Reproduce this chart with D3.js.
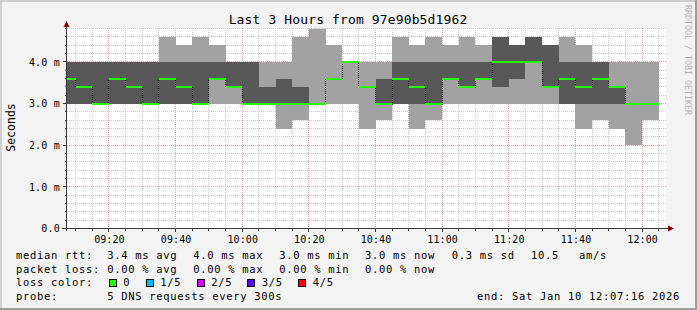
<!DOCTYPE html>
<html>
<head>
<meta charset="utf-8">
<script src="https://cdn.jsdelivr.net/npm/d3@7"></script>
<style>
  body { margin: 0; background: #f3f3f3; }
  text { font-family: "DejaVu Sans Mono", monospace; fill: #000; }
</style>
</head>
<body>
<script>
// smokeping style graph: 5 pings per 5 minute step, sorted low -> high

// end time of each 5 minute step
var times = ["09:10","09:15","09:20","09:25","09:30","09:35","09:40","09:45","09:50","09:55",
  "10:00","10:05","10:10","10:15","10:20","10:25","10:30","10:35","10:40","10:45","10:50","10:55",
  "11:00","11:05","11:10","11:15","11:20","11:25","11:30","11:35","11:40","11:45","11:50","11:55",
  "12:00","12:05"];

// values in ms
var ping1  = [3.0,3.0,3.0,3.0,3.0,3.0,3.0,3.0,3.0,3.0,3.0,3.0,3.0,2.4,2.6,3.0,3.0,3.0,2.4,2.6,3.0,2.4,2.6,3.0,3.0,3.0,3.0,3.0,3.0,3.0,3.0,2.4,2.6,2.4,2.0,2.6];
var ping2  = [3.0,3.0,3.0,3.0,3.0,3.0,3.0,3.0,3.0,3.6,3.4,3.0,3.0,3.0,3.0,3.0,3.6,4.0,3.4,3.0,3.0,3.0,3.0,3.6,3.4,3.6,3.4,3.6,4.0,3.4,3.0,3.0,3.0,3.0,3.0,3.0];
var median = [3.6,3.4,3.0,3.6,3.4,3.0,3.6,3.4,3.0,3.6,3.4,3.0,3.0,3.0,3.0,3.0,3.6,4.0,3.4,3.0,3.6,3.4,3.0,3.6,3.4,3.6,4.0,4.0,4.0,3.4,3.6,3.4,3.6,3.4,3.0,3.0];
var ping4  = [4.0,4.0,4.0,4.0,4.0,4.0,4.0,4.0,4.0,4.0,4.0,4.0,3.4,3.6,3.4,3.0,3.6,4.0,3.4,3.6,4.0,4.0,4.0,4.0,4.0,4.0,4.6,4.4,4.6,4.4,4.0,4.0,4.0,3.4,3.0,3.0];
var ping5  = [4.0,4.0,4.0,4.0,4.0,4.0,4.6,4.4,4.6,4.4,4.0,4.0,4.0,4.0,4.6,4.8,4.4,4.0,4.0,4.0,4.6,4.4,4.6,4.4,4.6,4.4,4.6,4.4,4.6,4.4,4.6,4.4,4.0,4.0,4.0,4.0];

var yTicks = [0, 1, 2, 3, 4];
var title = "Last 3 Hours from 97e90b5d1962";

var rowLabels = ["median rtt:", "packet loss:", "loss color:", "probe:"];
var rttStats  = ["3.4 ms avg", "4.0 ms max", "3.0 ms min", "3.0 ms now", "0.3 ms sd", "10.5", "am/s"];
var lossStats = ["0.00 % avg", "0.00 % max", "0.00 % min", "0.00 % now"];
var lossNames  = ["0", "1/5", "2/5", "3/5", "4/5"];
var lossColors = ["#26ff00", "#00b8ff", "#dd00ff", "#5e00ff", "#ff0000"];
var probeText = "5 DNS requests every 300s";
var endText = "end: Sat Jan 10 12:07:16 2026";

var W = 697, H = 310;
var day = t => new Date(2026, 0, 10, +t.slice(0, 2), +t.slice(3, 5), +(t.slice(6) || 0));
var snap = v => Math.floor(v) + 0.5;

var x = d3.scaleTime().domain([day("09:07:16"), day("12:07:16")]).range([66.5, 666.3]);
var y = d3.scaleLinear().domain([0, 4.8]).range([228.5, 28.5]);

var steps = times.map((t, i) => {
  var end = day(t);
  var start = d3.max([d3.timeMinute.offset(end, -5), x.domain()[0]]);
  return { start: start, end: end, p1: ping1[i], p2: ping2[i], med: median[i], p4: ping4[i], p5: ping5[i] };
});

var svg = d3.select("body").append("svg").attr("width", W).attr("height", H);

// canvas + shade frame
svg.append("rect").attr("width", W).attr("height", H).attr("fill", "#f3f3f3");
svg.append("path").attr("d", `M1,${H} V1 H${W}`).attr("stroke", "#cfcfcf").attr("stroke-width", 2).attr("fill", "none");
svg.append("path").attr("d", `M0,${H - 1} H${W - 1} V0`).attr("stroke", "#9e9e9e").attr("stroke-width", 2).attr("fill", "none");

svg.append("rect").attr("x", 67).attr("y", 28).attr("width", 599).attr("height", 200).attr("fill", "#fff");

// grid
var grid = svg.append("g").attr("shape-rendering", "crispEdges").attr("stroke-dasharray", "1,1");
var minorY = d3.range(0, 4.81, 0.2).filter(v => Math.abs(v - Math.round(v)) > 1e-6);
grid.selectAll(".hmin").data(minorY).enter().append("line")
  .attr("x1", 67).attr("x2", 666).attr("y1", d => snap(y(d))).attr("y2", d => snap(y(d)))
  .attr("stroke", "#cacaca");
var minorX = x.ticks(d3.timeMinute.every(5)).filter(d => d.getMinutes() % 20 != 0);
grid.selectAll(".vmin").data(minorX).enter().append("line")
  .attr("x1", d => snap(x(d))).attr("x2", d => snap(x(d))).attr("y1", 28).attr("y2", 228)
  .attr("stroke", "#cacaca");
grid.selectAll(".hmaj").data(yTicks.slice(1)).enter().append("line")
  .attr("x1", 67).attr("x2", 666).attr("y1", d => snap(y(d))).attr("y2", d => snap(y(d)))
  .attr("stroke", "#eea0a0");
var majorX = x.ticks(d3.timeMinute.every(20));
grid.selectAll(".vmaj").data(majorX).enter().append("line")
  .attr("x1", d => snap(x(d))).attr("x2", d => snap(x(d))).attr("y1", 28).attr("y2", 228)
  .attr("stroke", "#eea0a0");

// smoke
var smoke = svg.append("g").attr("shape-rendering", "crispEdges");
smoke.selectAll(".outer").data(steps).enter().append("rect")
  .attr("x", d => x(d.start)).attr("width", d => x(d.end) - x(d.start))
  .attr("y", d => y(d.p5)).attr("height", d => y(d.p1) - y(d.p5))
  .attr("fill", "#a2a2a2");
smoke.selectAll(".inner").data(steps).enter().append("rect")
  .attr("x", d => x(d.start)).attr("width", d => x(d.end) - x(d.start))
  .attr("y", d => y(d.p4)).attr("height", d => y(d.p2) - y(d.p4))
  .attr("fill", "#585858");

// median: thin dotted step line, then loss-coloured segments
var medPts = steps.map(d => [snap(x(d.start)), Math.round(y(d.med))]);
medPts.push([snap(x(steps[steps.length - 1].end)), Math.round(y(median[median.length - 1]))]);
svg.append("path")
  .attr("d", d3.line().curve(d3.curveStepAfter)(medPts))
  .attr("fill", "none").attr("stroke", "#111").attr("stroke-dasharray", "1,1")
  .attr("shape-rendering", "crispEdges");
svg.append("g").attr("shape-rendering", "crispEdges").selectAll("line").data(steps).enter().append("line")
  .attr("x1", d => x(d.start)).attr("x2", d => x(d.end))
  .attr("y1", d => Math.round(y(d.med))).attr("y2", d => Math.round(y(d.med)))
  .attr("stroke", lossColors[0]).attr("stroke-width", 2);

// axes labels via d3 axes
var yAxis = svg.append("g").attr("transform", "translate(66.5,0)")
  .call(d3.axisLeft(y).tickValues(yTicks).tickSize(0).tickPadding(6.5)
    .tickFormat(v => v == 0 ? "0.0" : v.toFixed(1) + " m"));
yAxis.select(".domain").remove();
yAxis.selectAll("text").attr("font-family", "DejaVu Sans Mono").attr("font-size", 10)
  .attr("letter-spacing", 0.2).attr("fill", "#000").attr("dy", "0.34em");

var xAxis = svg.append("g").attr("transform", "translate(0,228.5)")
  .call(d3.axisBottom(x).tickValues(majorX).tickSize(0).tickPadding(5)
    .tickFormat(d3.timeFormat("%H:%M")));
xAxis.select(".domain").remove();
xAxis.selectAll("text").attr("font-family", "DejaVu Sans Mono").attr("font-size", 10)
  .attr("letter-spacing", 0.1).attr("fill", "#000").attr("dy", "0.95em");

// axis lines, ticks and arrows
var ax = svg.append("g").attr("shape-rendering", "crispEdges").attr("stroke", "#3a3a3a");
ax.append("line").attr("x1", 62).attr("x2", 668).attr("y1", 228.5).attr("y2", 228.5);
ax.append("line").attr("x1", 66.5).attr("x2", 66.5).attr("y1", 231).attr("y2", 25);
ax.selectAll(".ty").data(d3.range(0, 4.81, 0.2)).enter().append("line")
  .attr("x1", d => Math.abs(d - Math.round(d)) < 1e-6 ? 63 : 64.5).attr("x2", 66.5)
  .attr("y1", d => snap(y(d))).attr("y2", d => snap(y(d)));
ax.selectAll(".tx").data(minorX.concat(majorX)).enter().append("line")
  .attr("x1", d => snap(x(d))).attr("x2", d => snap(x(d)))
  .attr("y1", 228.5).attr("y2", d => d.getMinutes() % 20 == 0 ? 232 : 230.5);
svg.append("path").attr("d", "M63.5,27 L66.5,21 L69.5,27 Z").attr("fill", "#800000");
svg.append("path").attr("d", "M668,225.5 L674,228.5 L668,231.5 Z").attr("fill", "#800000");

// texts
svg.append("text").attr("x", 348).attr("y", 24).attr("text-anchor", "middle")
  .attr("font-size", 13).attr("letter-spacing", 0.13).text(title);
svg.append("text").attr("transform", "translate(15,127.5) rotate(-90)").attr("text-anchor", "middle")
  .attr("font-family", "DejaVu Sans").attr("font-size", 11.5).text("Seconds");
svg.append("text").attr("transform", "translate(684.5,5) rotate(90)")
  .attr("font-size", 8.3).attr("fill", "#b4b4b4").style("fill", "#b4b4b4").text("RRDTOOL / TOBI OETIKER");

var leg = svg.append("g").attr("font-size", 10.5).attr("letter-spacing", 0.68);
var rowY = [259, 272.5, 286, 299.5];
leg.selectAll(".rl").data(rowLabels).enter().append("text")
  .attr("x", 16).attr("y", (d, i) => rowY[i]).text(d => d);
var rttX = [107.3, 193.3, 279.3, 365, 451.7, 531, 579];
leg.selectAll(".rtt").data(rttStats).enter().append("text")
  .attr("x", (d, i) => rttX[i]).attr("y", rowY[0]).text(d => d);
leg.selectAll(".loss").data(lossStats).enter().append("text")
  .attr("x", (d, i) => rttX[i]).attr("y", rowY[1]).text(d => d);
var boxX = [108.7, 145.7, 196.7, 247.3, 298.3];
leg.selectAll(".lb").data(lossColors).enter().append("rect")
  .attr("x", (d, i) => Math.round(boxX[i]) + 0.5).attr("y", 279.5).attr("width", 7).attr("height", 7)
  .attr("fill", d => d).attr("stroke", "#000").attr("stroke-width", 1);
leg.selectAll(".ln").data(lossNames).enter().append("text")
  .attr("x", (d, i) => boxX[i] + 14.5).attr("y", rowY[2]).text(d => d);
leg.append("text").attr("x", 107.3).attr("y", rowY[3]).text(probeText);
leg.append("text").attr("x", 680).attr("y", rowY[3]).attr("text-anchor", "end").text(endText);
</script>
</body>
</html>
